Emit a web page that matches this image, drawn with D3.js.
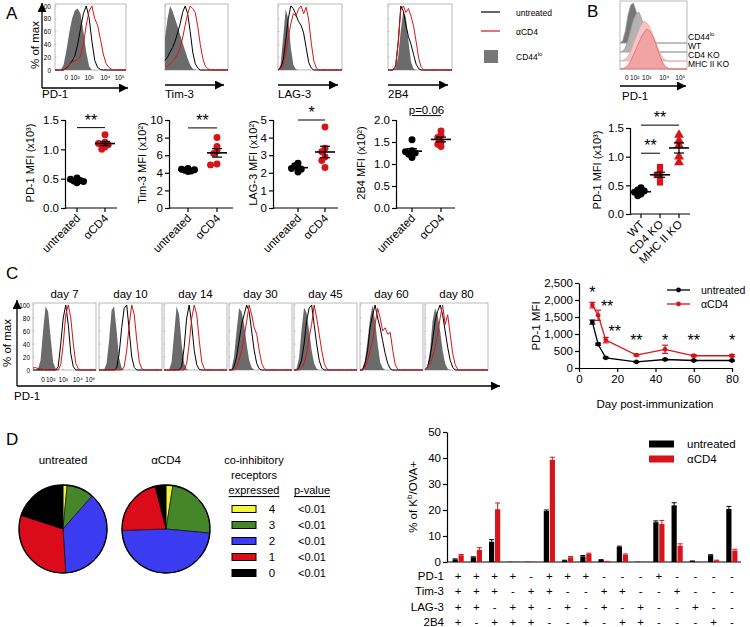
<!DOCTYPE html>
<html>
<head>
<meta charset="utf-8">
<script src="https://cdnjs.cloudflare.com/ajax/libs/d3/7.8.5/d3.min.js"></script>
<style>
    body { margin: 0; background: #fff; }
    svg { font-family: "Liberation Sans", Arial, Helvetica, sans-serif; }
</style>
</head>
<body>
<div id="figure"></div>
<script>
const ctx = {
    W: 750,
    H: 627,
    RED: "#d7141a",
    GRAY: "#6b6b6b",
};

// sample positions across a histogram box (fraction of width)
const histGrid = [0, 0.04, 0.08, 0.12, 0.16, 0.2, 0.24, 0.28, 0.32, 0.36, 0.4, 0.44, 0.48,
    0.52, 0.56, 0.6, 0.64, 0.68, 0.72, 0.76, 0.8, 0.84, 0.88, 0.92, 0.96, 1];
const histTickText = ["0", "10²", "10³", "10⁴", "10⁵"];
const histTickPos = [0.16, 0.28, 0.48, 0.71, 0.91];

// ---- panel A : histograms (% of max, values not listed are 0)
const markers = ["PD-1", "Tim-3", "LAG-3", "2B4"];
const histAGray = [
    [0, 0, 0, 8, 30, 58, 80, 93, 96, 88, 60, 28, 6],
    [50, 80, 100, 92, 80, 68, 55, 42, 30, 18, 8, 2],
    [0, 8, 50, 95, 80, 35, 8, 1],
    [0, 0, 0, 3, 22, 62, 92, 82, 45, 12, 2],
];
const histABlack = [
    [0, 0, 0, 0, 3, 8, 14, 22, 40, 65, 88, 100, 82, 45, 15, 4, 1],
    [15, 20, 28, 35, 45, 58, 72, 90, 100, 88, 60, 28, 10, 3],
    [0, 3, 15, 45, 80, 100, 96, 86, 76, 70, 58, 35, 12, 3],
    [0, 0, 0, 6, 45, 100, 92, 70, 52, 40, 24, 9, 2],
];
const histARed = [
    [0, 0, 0, 0, 2, 8, 12, 14, 16, 22, 40, 70, 92, 100, 80, 70, 48, 25, 10, 4, 1],
    [4, 6, 9, 13, 18, 25, 35, 50, 70, 88, 100, 96, 90, 68, 40, 18, 6, 2],
    [0, 2, 8, 25, 50, 72, 88, 84, 95, 100, 88, 98, 78, 42, 14, 3],
    [0, 0, 1, 7, 42, 94, 100, 90, 96, 84, 68, 44, 18, 4],
];

// ---- panel A : MFI dot plots
const mfiUntreated = [
    [0.51, 0.49, 0.47, 0.46, 0.45, 0.43],
    [4.5, 4.4, 4.35, 4.3, 4.2, 4.15],
    [2.55, 2.4, 2.3, 2.25, 2.2, 2.05],
    [1.55, 1.3, 1.28, 1.25, 1.22, 1.15],
];
const mfiAcd4 = [
    [1.25, 1.12, 1.10, 1.08, 1.04, 1.00],
    [8.0, 7.0, 6.5, 6.2, 5.0, 4.9],
    [4.6, 3.4, 3.2, 2.9, 2.7, 2.3],
    [1.75, 1.65, 1.6, 1.5, 1.45, 1.4],
];
const mfiMax = [1.5, 10, 5, 2];
const mfiTicks = [[0, 0.5, 1, 1.5], [0, 2, 4, 6, 8, 10], [0, 1, 2, 3, 4, 5], [0, 0.5, 1, 1.5, 2]];
const mfiTickFmt = [".1f", "d", "d", ".1f"];
const mfiTitles = ["PD-1 MFI (x10³)", "Tim-3 MFI (x10²)", "LAG-3 MFI (x10²)", "2B4 MFI (x10²)"];
const mfiSig = ["**", "**", "*", "p=0.06"];
const mfiSigLevel = [1.37, 9.1, 5.0, 2.1];
const groups = ["untreated", "αCD4"];

// ---- panel B
const bHistLabels = ["CD44", "WT", "CD4 KO", "MHC II KO"];
const bHist = [
    [0, 5, 30, 70, 95, 100, 80, 50, 25, 8, 2],
    [0, 2, 10, 30, 55, 80, 95, 100, 85, 60, 35, 15, 5, 1],
    [0, 1, 5, 12, 25, 42, 60, 78, 92, 100, 95, 85, 70, 52, 34, 18, 7, 2],
    [0, 1, 4, 10, 20, 35, 50, 65, 80, 92, 100, 95, 85, 70, 50, 30, 15, 6, 2],
];
const bGroups = ["WT", "CD4 KO", "MHC II KO"];
const bValues = [
    [0.46, 0.42, 0.40, 0.38, 0.35, 0.32],
    [0.82, 0.72, 0.68, 0.65, 0.55],
    [1.38, 1.28, 1.2, 1.0, 0.9],
];
const bSigPairs = [[0, 1, 1.06, "**"], [0, 2, 1.55, "**"]];

// ---- panel C
const days = [7, 10, 14, 30, 45, 60, 80];
const histCGray = [
    [0, 0, 2, 15, 60, 98, 90, 50, 12, 2],
    [0, 0, 0, 10, 45, 92, 98, 60, 18, 3],
    [0, 0, 0, 12, 55, 98, 85, 40, 10, 1],
    [0, 2, 20, 60, 95, 90, 70, 40, 15, 4],
    [0, 2, 18, 62, 96, 88, 60, 30, 10, 2],
    [0, 3, 15, 45, 80, 100, 75, 40, 12, 3],
    [0, 5, 30, 75, 95, 85, 60, 30, 10, 2],
];
const histCBlack = [
    [0, 0, 0, 0, 0, 0, 0, 0, 0, 0, 5, 40, 80, 100, 70, 25, 5],
    [0, 0, 0, 0, 0, 0, 0, 3, 25, 65, 95, 100, 60, 20, 4],
    [0, 0, 0, 0, 0, 0, 0, 5, 35, 80, 100, 70, 30, 8, 1],
    [0, 0, 5, 20, 45, 70, 85, 100, 90, 60, 30, 10, 2],
    [0, 0, 4, 15, 40, 75, 95, 100, 70, 40, 15, 3],
    [0, 0, 10, 30, 65, 85, 100, 80, 65, 45, 25, 10, 2],
    [0, 5, 20, 45, 75, 90, 100, 85, 60, 35, 15, 4],
];
const histCRed = [
    [3, 4, 2, 3, 1, 0, 0, 0, 0, 0, 0, 8, 40, 85, 100, 80, 40, 10, 2],
    [0, 0, 0, 0, 0, 0, 0, 0, 0, 0, 5, 30, 70, 100, 85, 45, 12, 2],
    [0, 0, 0, 0, 0, 0, 0, 0, 0, 10, 40, 80, 100, 85, 45, 12, 2],
    [0, 0, 0, 5, 15, 30, 50, 75, 100, 85, 65, 55, 30, 10, 2],
    [0, 0, 0, 3, 10, 25, 50, 70, 100, 80, 55, 30, 10, 2],
    [0, 0, 5, 15, 30, 45, 70, 95, 80, 60, 65, 55, 58, 30, 8, 1],
    [0, 5, 10, 20, 35, 55, 80, 100, 70, 85, 55, 25, 8, 1],
];
const mfiDayUntreated = [1350, 700, 300, 180, 250, 220, 220];
const semDayUntreated = [60, 30, 20, 15, 20, 15, 15];
const mfiDayAcd4 = [1850, 1550, 820, 380, 550, 360, 360];
const semDayAcd4 = [80, 150, 80, 25, 120, 30, 30];
const daySig = ["*", "**", "**", "**", "*", "**", "*"];
const daySigLevel = [2230, 1830, 1100, 820, 820, 820, 820];

// ---- panel D
const receptorCounts = ["4", "3", "2", "1", "0"];
const pieUntreated = [1.5, 10, 37.5, 31, 20];
const pieAcd4 = [2.5, 24, 48, 21.5, 4];
const pieP = ["<0.01", "<0.01", "<0.01", "<0.01", "<0.01"];
const comboRows = ["PD-1", "Tim-3", "LAG-3", "2B4"];
const combos = ["++++", "+++-", "++-+", "+-++", "-+++", "++--", "+-+-", "+--+",
    "-++-", "-+-+", "--++", "+---", "-+--", "--+-", "---+", "----"];
const pctUntreated = [1.0, 1.8, 7.8, 0.1, 0.1, 19.6, 0.6, 2.2, 0.8, 5.8, 0.1, 15.3, 21.8, 0.3, 2.6, 20.4];
const semUntreated = [0.2, 0.2, 0.8, 0, 0, 0.4, 0.1, 0.3, 0.1, 0.3, 0, 0.5, 1.0, 0.1, 0.2, 1.0];
const pctAcd4 = [2.6, 4.6, 20.3, 0.1, 0.1, 39.3, 1.8, 3.1, 0.2, 2.8, 0.1, 14.6, 6.3, 0.1, 0.6, 4.4];
const semAcd4 = [0.3, 0.9, 2.4, 0, 0, 1.0, 0.3, 0.3, 0.05, 0.3, 0, 1.4, 0.7, 0, 0.1, 0.5];

function createViz() {
    const svg = d3.select("#figure").append("svg")
        .attr("width", ctx.W).attr("height", ctx.H);
    svg.append("defs").append("marker")
        .attr("id", "arrowHead").attr("viewBox", "0 0 10 10")
        .attr("refX", 10).attr("refY", 5)
        .attr("markerWidth", 10).attr("markerHeight", 9)
        .attr("markerUnits", "userSpaceOnUse").attr("orient", "auto")
        .append("path").attr("d", "M0,0L10,5L0,10Z").attr("fill", "#000");
    ctx.svg = svg;

    drawPanelA();
    drawPanelB();
    drawPanelC();
    drawPanelD();
}

// ---------- helpers
function txt(g, x, y, s, size, anchor) {
    return g.append("text").attr("x", x).attr("y", y)
        .attr("font-size", size || 11)
        .attr("text-anchor", anchor || "start")
        .attr("dominant-baseline", "central")
        .attr("fill", "#000")
        .text(s);
}

function arrow(g, x1, y1, x2, y2) {
    g.append("line").attr("x1", x1).attr("y1", y1).attr("x2", x2).attr("y2", y2)
        .attr("stroke", "#000").attr("stroke-width", 1.3)
        .attr("marker-end", "url(#arrowHead)");
}

function histBox(g, box, gray, black, red) {
    const x = d3.scaleLinear().domain([0, 1]).range([box.x, box.x + box.w]);
    const y = d3.scaleLinear().domain([0, 100]).range([box.y + box.h, box.y + 2]);
    const full = v => histGrid.map((p, i) => v[i] || 0);

    g.append("rect").attr("x", box.x).attr("y", box.y)
        .attr("width", box.w).attr("height", box.h)
        .attr("fill", "#fff").attr("stroke", "#a8a8a8").attr("stroke-width", 0.8);

    // small inner ticks
    [0, 20, 40, 60, 80, 100].forEach(t => {
        g.append("line").attr("x1", box.x).attr("x2", box.x + 1.5)
            .attr("y1", y(t)).attr("y2", y(t)).attr("stroke", "#888").attr("stroke-width", 0.5);
    });
    histTickPos.forEach(t => {
        g.append("line").attr("x1", x(t)).attr("x2", x(t))
            .attr("y1", box.y + box.h).attr("y2", box.y + box.h - 1.5)
            .attr("stroke", "#888").attr("stroke-width", 0.5);
    });

    const area = d3.area().x((d, i) => x(histGrid[i])).y0(y(0)).y1(d => y(d));
    const line = d3.line().x((d, i) => x(histGrid[i])).y(d => y(d));
    g.append("path").attr("d", area(full(gray))).attr("fill", ctx.GRAY);
    g.append("path").attr("d", line(full(black)))
        .attr("fill", "none").attr("stroke", "#000").attr("stroke-width", 1);
    g.append("path").attr("d", line(full(red)))
        .attr("fill", "none").attr("stroke", ctx.RED).attr("stroke-width", 1);
    return { x, y };
}

function histTicks(g, box, yLabelX, tickY) {
    const x = d3.scaleLinear().domain([0, 1]).range([box.x, box.x + box.w]);
    const y = d3.scaleLinear().domain([0, 100]).range([box.y + box.h, box.y + 2]);
    if (yLabelX != null) {
        [0, 20, 40, 60, 80, 100].forEach(t => txt(g, yLabelX, y(t), t, 6.5, "end"));
    }
    histTickText.forEach((t, i) => txt(g, x(histTickPos[i]), tickY, t, 6.5, "middle"));
}

// compact beeswarm: close points go sideways (max two steps) and may overlap
function swarm(values, y, r) {
    const placed = [];
    return values.map(v => {
        const cy = y(v);
        const offs = [0, -1, 1, -2, 2];
        let best = null, bestD = -1;
        for (const o of offs) {
            const cx = o * r * 0.95;
            const d = placed.length ? d3.min(placed, p => Math.hypot(p[0] - cx, p[1] - cy)) : Infinity;
            if (d >= r * 1.05) { best = cx; break; }
            if (d > bestD) { bestD = d; best = cx; }
        }
        placed.push([best, cy]);
        return [best, cy];
    });
}

function dotGroup(g, values, cx, y, color, shape) {
    const pts = swarm(values, y, 3.4);
    const sym = d3.symbol().type(shape).size(shape === d3.symbolTriangle ? 42 : 38);
    g.selectAll(null).data(pts).enter().append("path")
        .attr("transform", d => `translate(${cx + d[0]},${d[1]})`)
        .attr("d", sym).attr("fill", color);

    const m = d3.mean(values);
    const sem = d3.deviation(values) / Math.sqrt(values.length);
    g.append("line").attr("x1", cx - 10).attr("x2", cx + 10)
        .attr("y1", y(m)).attr("y2", y(m)).attr("stroke", "#000").attr("stroke-width", 1.6);
    g.append("line").attr("x1", cx).attr("x2", cx)
        .attr("y1", y(m - sem)).attr("y2", y(m + sem)).attr("stroke", "#000").attr("stroke-width", 1.2);
    [m - sem, m + sem].forEach(v => {
        g.append("line").attr("x1", cx - 5).attr("x2", cx + 5)
            .attr("y1", y(v)).attr("y2", y(v)).attr("stroke", "#000").attr("stroke-width", 1.2);
    });
}

function sigBar(g, x1, x2, yy, label, size) {
    g.append("line").attr("x1", x1).attr("x2", x2).attr("y1", yy).attr("y2", yy)
        .attr("stroke", "#000").attr("stroke-width", 1);
    g.append("text").attr("x", (x1 + x2) / 2).attr("y", yy - 2)
        .attr("text-anchor", "middle").attr("font-size", size)
        .text(label);
}

// ---------- panel A
function drawPanelA() {
    const g = ctx.svg.append("g").attr("class", "panelA");
    txt(g, 6, 13, "A", 17);

    const boxes = [{ x: 55, w: 71 }, { x: 165, w: 63 }, { x: 278, w: 64 }, { x: 388, w: 64 }];
    const arrowY = [88, 85, 85, 85];
    boxes.forEach((b, i) => {
        const box = { x: b.x, y: 4, w: b.w, h: 66 };
        histBox(g, box, histAGray[i], histABlack[i], histARed[i]);
        arrow(g, i === 0 ? 42 : b.x, arrowY[i], b.x + b.w + (i === 0 ? 2 : -4), arrowY[i]);
        txt(g, i === 0 ? 42 : b.x, 94, markers[i], 11.5);
        if (i === 0) histTicks(g, box, 51, 77);
    });
    arrow(g, 42, 88, 42, 3);
    txt(g, 0, 0, "% of max", 11.5, "middle").attr("transform", "translate(35,45) rotate(-90)")
        .attr("x", 0).attr("y", 0);

    // legend
    const lg = g.append("g");
    lg.append("line").attr("x1", 481).attr("x2", 500).attr("y1", 12).attr("y2", 12)
        .attr("stroke", "#000").attr("stroke-width", 1.2);
    lg.append("line").attr("x1", 481).attr("x2", 500).attr("y1", 31).attr("y2", 31)
        .attr("stroke", ctx.RED).attr("stroke-width", 1.2);
    lg.append("rect").attr("x", 484).attr("y", 50).attr("width", 14).attr("height", 13)
        .attr("fill", "#777");
    txt(lg, 516, 13, "untreated", 8.5);
    txt(lg, 516, 32, "αCD4", 8.5);
    const t = txt(lg, 516, 57, "CD44", 8.5);
    t.append("tspan").attr("font-size", 6).attr("dy", -3).text("lo");

    // dot plots
    const layout = [
        { axis: 65, cats: [77, 105], end: 117, label: 30 },
        { axis: 169, cats: [188, 217], end: 233, label: 142 },
        { axis: 273, cats: [298, 325], end: 338, label: 253 },
        { axis: 396, cats: [412, 441], end: 455, label: 361 },
    ];
    layout.forEach((L, i) => {
        const y = d3.scaleLinear().domain([0, mfiMax[i]]).range([208, 120]);
        const dg = g.append("g");
        dg.append("g").attr("transform", `translate(${L.axis},0)`)
            .call(d3.axisLeft(y).tickValues(mfiTicks[i]).tickFormat(d3.format(mfiTickFmt[i])).tickSize(4).tickPadding(2))
            .call(a => a.select(".domain").attr("stroke-width", 1.2))
            .call(a => a.selectAll("text").attr("font-size", 11.5).attr("font-family", null))
            .call(a => a.selectAll(".tick line").attr("stroke-width", 1.2));
        dg.append("line").attr("x1", L.axis).attr("x2", L.end).attr("y1", 208).attr("y2", 208)
            .attr("stroke", "#000").attr("stroke-width", 1.2);
        L.cats.forEach((cx, k) => {
            dg.append("line").attr("x1", cx).attr("x2", cx).attr("y1", 208).attr("y2", 212)
                .attr("stroke", "#000").attr("stroke-width", 1.2);
            dg.append("text").attr("text-anchor", "end").attr("font-size", 11.5)
                .attr("transform", `translate(${cx + 4},${219}) rotate(-45)`)
                .text(groups[k]);
        });
        dotGroup(dg, mfiUntreated[i], L.cats[0], y, "#000", d3.symbolCircle);
        dotGroup(dg, mfiAcd4[i], L.cats[1], y, ctx.RED, d3.symbolCircle);
        sigBar(dg, L.cats[0], L.cats[1], y(mfiSigLevel[i]), mfiSig[i], i === 3 ? 11.5 : 16);
        dg.append("text").attr("text-anchor", "middle").attr("font-size", 11)
            .attr("transform", `translate(${L.label},163) rotate(-90)`)
            .attr("dominant-baseline", "central")
            .text(mfiTitles[i]);
    });
}

// ---------- panel B
function drawPanelB() {
    const g = ctx.svg.append("g").attr("class", "panelB");
    txt(g, 587, 11, "B", 17);

    const bx = 620, bw = 67;
    const x = d3.scaleLinear().domain([0, 1]).range([bx, bx + bw]);
    const bases = [43, 52, 61, 69];
    const fills = ["#777", "#b3b3b3", "#f6c4c4", "#f2a3a3"];
    const strokes = ["#9a9a9a", "#9a9a9a", "#e8a3a3", "#de6b6b"];

    g.append("rect").attr("x", bx).attr("y", 1).attr("width", bw).attr("height", 68)
        .attr("fill", "#fff").attr("stroke", "#a8a8a8").attr("stroke-width", 0.8);
    bHist.forEach((h, i) => {
        const y = d3.scaleLinear().domain([0, 100]).range([bases[i], bases[i] - 40]);
        const area = d3.area().x((d, k) => x(histGrid[k])).y0(bases[i]).y1(d => y(d));
        g.append("path").attr("d", area(histGrid.map((p, k) => h[k] || 0)))
            .attr("fill", fills[i]).attr("stroke", strokes[i]).attr("stroke-width", 0.8);
    });
    bHistLabels.forEach((s, i) => {
        const t = txt(g, 688, [37, 46, 55, 64][i], s, 8.5);
        if (i === 0) t.append("tspan").attr("font-size", 6).attr("dy", -3).text("lo");
    });
    histTickText.forEach((t, i) => txt(g, x([0.1, 0.22, 0.4, 0.66, 0.9][i]), 77, t, 6.5, "middle"));
    arrow(g, bx, 86, bx + bw - 1, 86);
    txt(g, 622, 96, "PD-1", 11.5);

    // dot plot
    const y = d3.scaleLinear().domain([0, 1.5]).range([214, 128]);
    const cats = [641, 660, 679];
    g.append("g").attr("transform", "translate(630,0)")
        .call(d3.axisLeft(y).tickValues([0, 0.5, 1, 1.5]).tickFormat(d3.format(".1f")).tickSize(4).tickPadding(2))
        .call(a => a.select(".domain").attr("stroke-width", 1.2))
        .call(a => a.selectAll("text").attr("font-size", 11.5).attr("font-family", null))
        .call(a => a.selectAll(".tick line").attr("stroke-width", 1.2));
    g.append("line").attr("x1", 630).attr("x2", 690).attr("y1", 214).attr("y2", 214)
        .attr("stroke", "#000").attr("stroke-width", 1.2);
    const shapes = [d3.symbolCircle, d3.symbolSquare, d3.symbolTriangle];
    const cols = ["#000", ctx.RED, ctx.RED];
    bGroups.forEach((s, i) => {
        g.append("line").attr("x1", cats[i]).attr("x2", cats[i]).attr("y1", 214).attr("y2", 218)
            .attr("stroke", "#000").attr("stroke-width", 1.2);
        g.append("text").attr("text-anchor", "end").attr("font-size", 11.5)
            .attr("transform", `translate(${cats[i] + 4},225) rotate(-45)`).text(s);
        dotGroup(g, bValues[i], cats[i], y, cols[i], shapes[i]);
    });
    bSigPairs.forEach(p => sigBar(g, cats[p[0]], cats[p[1]], y(p[2]), p[3], 16));
    g.append("text").attr("text-anchor", "middle").attr("font-size", 11)
        .attr("dominant-baseline", "central")
        .attr("transform", "translate(597,170) rotate(-90)")
        .text("PD-1 MFI (x10³)");
}

// ---------- panel C
function drawPanelC() {
    const g = ctx.svg.append("g").attr("class", "panelC");
    txt(g, 6, 273, "C", 17);

    const starts = [33, 99, 164, 229, 294, 360, 425];
    starts.forEach((sx, i) => {
        const box = { x: sx, y: 303, w: 63, h: 67 };
        histBox(g, box, histCGray[i], histCBlack[i], histCRed[i]);
        txt(g, sx + 31.5, 294, "day " + days[i], 11.5, "middle");
        if (i === 0) histTicks(g, box, 30, 379);
    });
    arrow(g, 17, 386, 17, 300);
    arrow(g, 17, 386, 500, 386);
    txt(g, 14, 396, "PD-1", 11.5);
    txt(g, 0, 0, "% of max", 11.5, "middle").attr("transform", "translate(7,343) rotate(-90)");

    // line chart
    const x = d3.scaleLinear().domain([0, 80]).range([579, 732]);
    const y = d3.scaleLinear().domain([0, 2500]).range([368, 283]);
    const axStyle = a => {
        a.select(".domain").attr("stroke-width", 1.2);
        a.selectAll(".tick line").attr("stroke-width", 1.2);
        a.selectAll("text").attr("font-size", 11.5).attr("font-family", null);
    };
    g.append("g").attr("transform", "translate(579,0)")
        .call(d3.axisLeft(y).tickValues([0, 500, 1000, 1500, 2000, 2500]).tickSize(4).tickPadding(2).tickSizeOuter(0))
        .call(axStyle);
    g.append("g").attr("transform", "translate(0,368)")
        .call(d3.axisBottom(x).tickValues([0, 20, 40, 60, 80]).tickSize(4).tickPadding(3).tickSizeOuter(0))
        .call(axStyle);
    txt(g, 655, 404, "Day post-immunization", 11.5, "middle");
    g.append("text").attr("text-anchor", "middle").attr("font-size", 11.5)
        .attr("dominant-baseline", "central")
        .attr("transform", "translate(536,326) rotate(-90)").text("PD-1 MFI");

    const series = [
        { v: mfiDayUntreated, e: semDayUntreated, c: "#000" },
        { v: mfiDayAcd4, e: semDayAcd4, c: ctx.RED },
    ];
    series.forEach(s => {
        const line = d3.line().x((d, i) => x(days[i])).y(d => y(d));
        g.append("path").attr("d", line(s.v)).attr("fill", "none")
            .attr("stroke", s.c).attr("stroke-width", 1.3);
        s.v.forEach((v, i) => {
            const cx = x(days[i]);
            g.append("line").attr("x1", cx).attr("x2", cx)
                .attr("y1", y(v - s.e[i])).attr("y2", y(v + s.e[i]))
                .attr("stroke", s.c).attr("stroke-width", 1.2);
            [v - s.e[i], v + s.e[i]].forEach(w => g.append("line")
                .attr("x1", cx - 3).attr("x2", cx + 3).attr("y1", y(w)).attr("y2", y(w))
                .attr("stroke", s.c).attr("stroke-width", 1.2));
            g.append("circle").attr("cx", cx).attr("cy", y(v)).attr("r", 2.4).attr("fill", s.c);
        });
    });
    const starDx = [0, 9, 9, 0, 0, 0, 0];
    daySig.forEach((s, i) => {
        g.append("text").attr("x", x(days[i]) + starDx[i]).attr("y", y(daySigLevel[i]) + 6)
            .attr("text-anchor", "middle").attr("font-size", 16).text(s);
    });

    // legend
    [["untreated", "#000", 290], ["αCD4", ctx.RED, 304]].forEach(l => {
        g.append("line").attr("x1", 667).attr("x2", 690).attr("y1", l[2]).attr("y2", l[2])
            .attr("stroke", l[1]).attr("stroke-width", 1.3);
        g.append("circle").attr("cx", 678.5).attr("cy", l[2]).attr("r", 2.4).attr("fill", l[1]);
        txt(g, 701, l[2], l[0], 10.5);
    });
}

// ---------- panel D
function drawPanelD() {
    const g = ctx.svg.append("g").attr("class", "panelD");
    txt(g, 6, 439, "D", 17);

    const pieColors = ["#f4f43a", "#46862a", "#3b3bf2", "#dc0b1c", "#000"];
    const pie = d3.pie().sort(null);
    const arc = d3.arc().innerRadius(0).outerRadius(44);
    [[pieUntreated, 63, "untreated"], [pieAcd4, 166, "αCD4"]].forEach(p => {
        const pg = g.append("g").attr("transform", `translate(${p[1]},529)`);
        pg.selectAll("path").data(pie(p[0])).enter().append("path")
            .attr("d", arc).attr("fill", (d, i) => pieColors[i])
            .attr("stroke", "#000").attr("stroke-width", 0.6);
        pg.append("circle").attr("r", 44).attr("fill", "none")
            .attr("stroke", "#000").attr("stroke-width", 1.3);
        txt(g, p[1], 460, p[2], 11.5, "middle");
    });

    txt(g, 254, 460, "co-inhibitory", 11, "middle");
    txt(g, 254, 475, "receptors", 11, "middle");
    txt(g, 254, 490, "expressed", 11, "middle").attr("text-decoration", "underline");
    txt(g, 312, 490, "p-value", 11, "middle").attr("text-decoration", "underline");
    receptorCounts.forEach((r, i) => {
        const yy = 509 + i * 16;
        g.append("rect").attr("x", 232).attr("y", yy - 3.5).attr("width", 24).attr("height", 7)
            .attr("fill", pieColors[i]).attr("stroke", "#000").attr("stroke-width", 1);
        txt(g, 272, yy, r, 11.5, "middle");
        txt(g, 312, yy, pieP[i], 11, "middle");
    });

    // bar chart
    const x = d3.scaleBand().domain(d3.range(combos.length)).range([449, 741]);
    const y = d3.scaleLinear().domain([0, 50]).range([562, 432]);
    g.append("g").attr("transform", "translate(447,0)")
        .call(d3.axisLeft(y).tickValues([0, 10, 20, 30, 40, 50]).tickSize(4).tickPadding(2).tickSizeOuter(0))
        .call(a => a.select(".domain").attr("stroke-width", 1.2))
        .call(a => a.selectAll(".tick line").attr("stroke-width", 1.2))
        .call(a => a.selectAll("text").attr("font-size", 11.5).attr("font-family", null));
    g.append("line").attr("x1", 447).attr("x2", 741).attr("y1", 562).attr("y2", 562)
        .attr("stroke", "#000").attr("stroke-width", 1.2);

    const bars = [
        { v: pctUntreated, e: semUntreated, c: "#000", dx: -5.6 },
        { v: pctAcd4, e: semAcd4, c: ctx.RED, dx: 0.4 },
    ];
    bars.forEach(b => {
        b.v.forEach((v, i) => {
            const cx = x(i) + x.bandwidth() / 2 + b.dx;
            g.append("rect").attr("x", cx).attr("y", y(v)).attr("width", 5.2)
                .attr("height", 562 - y(v)).attr("fill", b.c);
            if (b.e[i] > 0) {
                const mx = cx + 2.6;
                g.append("line").attr("x1", mx).attr("x2", mx).attr("y1", y(v)).attr("y2", y(v + b.e[i]))
                    .attr("stroke", b.c).attr("stroke-width", 1);
                g.append("line").attr("x1", mx - 2.5).attr("x2", mx + 2.5)
                    .attr("y1", y(v + b.e[i])).attr("y2", y(v + b.e[i]))
                    .attr("stroke", b.c).attr("stroke-width", 1);
            }
        });
    });

    comboRows.forEach((r, k) => {
        const yy = 576 + k * 15.3;
        txt(g, 444, yy, r, 11.5, "end");
        combos.forEach((c, i) => {
            txt(g, x(i) + x.bandwidth() / 2, yy, c[k] === "+" ? "+" : "-", 11.5, "middle");
        });
    });

    g.append("text").attr("text-anchor", "middle").attr("font-size", 11.5)
        .attr("dominant-baseline", "central")
        .attr("transform", "translate(413,497) rotate(-90)")
        .call(t => {
            t.append("tspan").text("% of K");
            t.append("tspan").attr("font-size", 8).attr("dy", -4).text("b");
            t.append("tspan").attr("dy", 4).text("/OVA+");
        });

    [["untreated", "#000", 444], ["αCD4", ctx.RED, 459]].forEach(l => {
        g.append("rect").attr("x", 649).attr("y", l[2] - 3.5).attr("width", 25).attr("height", 7)
            .attr("fill", l[1]);
        txt(g, 687, l[2], l[0], 11.5);
    });
}

createViz();
</script>
</body>
</html>
